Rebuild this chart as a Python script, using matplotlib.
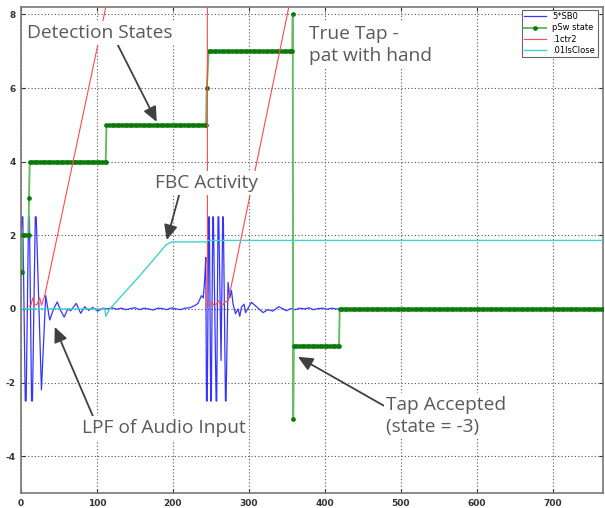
import numpy as np
import matplotlib.pyplot as plt

plt.rcParams['axes.unicode_minus'] = False

# 5*SB0 : low-pass filtered audio input
sb0_t = [0, 1.2, 2.4, 5.6, 6.8, 9.9, 11.1, 13.9, 15.1, 18.8, 20.0, 26.9,
         32.5, 37.8, 43.0, 47.7, 52.3, 56.9, 61.5, 65.4, 72.7, 78.6, 83.9,
         89.1, 94.4, 101, 107.6, 114, 120, 126, 132, 138, 144, 150, 156,
         162, 168, 174, 180, 186, 192, 198, 204, 210, 216, 222, 228.7, 233,
         237.5, 239.9, 241.8, 243.2, 244.1, 245.1, 247.1, 247.9, 249.7, 250.5,
         252.4, 253.2, 256.8, 257.6, 259.3, 260.3, 263.3, 265.5, 266.3, 269.1,
         269.9, 272.5, 274.8, 277.0, 279.1, 282.3, 285.7, 287.9, 290.2, 293.6,
         295.4, 299.8, 303.3, 307.7, 314.2, 318.6, 324.8, 331.4, 339.3, 344.9,
         349.4, 355.1, 361, 367, 373, 379, 385, 391, 397, 403, 409, 415, 421,
         766]
sb0 = [1.9, 2.5, 2.5, -2.5, -2.5, 2.5, 2.5, -2.5, -2.5, 2.5, 2.5, -2.2,
       0.36, -0.3, 0.0, 0.19, -0.05, -0.22, 0.0, -0.05, 0.15, -0.12, 0.06,
       -0.04, 0.04, -0.06, 0.02, 0.0, 0.03, -0.01, 0.02, -0.02, 0.01, 0.03,
       -0.02, 0.02, 0.0, -0.03, 0.02, 0.01, -0.02, 0.03, 0.0, -0.02, 0.02,
       0.03, 0.09, 0.15, 0.36, 0.3, 0.81, 1.4, -2.5, -2.5, 2.5, 2.5, -2.5,
       -2.5, 2.5, 2.5, -2.5, -2.5, 2.5, 2.5, -1.4, 2.5, 2.5, -2.5, -2.5, 0.72,
       0.3, 0.5, 0.13, -0.13, 0.0, -0.2, 0.05, 0.13, -0.1, 0.05, 0.18, 0.1,
       -0.02, -0.1, -0.02, -0.06, 0.06, 0.0, -0.05, 0.01, -0.02, 0.02, 0.0,
       0.03, -0.02, 0.01, 0.02, -0.01, 0.02, 0.0, 0.0, 0.0]

# pSw state : levels held between start and end
sw_levels = [1, 2, 3, 4, 5, 6, 7, 8, -3, -1, 0]
sw_start = [0, 2.0, 10.5, 11.5, 112.5, 244.5, 247.0, 357.7, 358.2, 359.0, 419.5]
sw_end = [1.5, 10.0, 10.5, 111.5, 243.5, 244.5, 357.2, 357.7, 358.2, 418.5, 766]

# .1ctr2 : counter ramps
ctr_t = [10.6, 13, 15.5, 18, 21, 24.6, 27, 31.2, 245.0, 245.4, 248, 251,
         254, 257, 260, 263, 266, 269, 272.5, 380]
ctr = [0.08, 0.1, 0.3, 0.1, 0.12, 0.3, 0.1, 0.36, 21.2, 0.05, 0.12, 0.2,
       0.1, 0.13, 0.22, 0.1, 0.12, 0.2, 0.2, 10.95]

# .01lsClose
ls_t = [0, 110.5, 111.5, 116.8, 156.3, 191.4, 198.4, 245.0, 245.5, 766]
ls = [0, 0, -0.2, 0, 0.9, 1.75, 1.82, 1.82, 1.86, 1.86]

sw_t, sw_v = [], []
for lvl, a, b in zip(sw_levels, sw_start, sw_end):
    pts = np.arange(a, b, 3.4).tolist() + [b]
    sw_t += pts
    sw_v += [lvl] * len(pts)

fig = plt.figure(figsize=(6.05, 5.08), dpi=100)
ax = fig.add_axes([21 / 605, 15 / 508, 582 / 605, 486 / 508])

ax.plot(sb0_t, sb0, color='#3535ff', lw=0.9, label='5*SB0', zorder=2)
ax.plot(sw_t, sw_v, color='#66bb66', lw=1.4, marker='o', ms=3.4, mew=0,
        mfc='#0b7a0b', label='pSw state', zorder=3)
ax.plot(ctr_t, ctr, color='#ff4a4a', lw=0.8, label='.1ctr2', zorder=4)
ax.plot(ls_t, ls, color='#40d2cf', lw=1.0, label='.01lsClose', zorder=5)

ax.set_xlim(0, 766)
ax.set_ylim(-5, 8.2)
ax.set_xticks(np.arange(0, 701, 100))
ax.set_yticks(np.arange(-4, 9, 2))
ax.grid(True, color='#555555', linestyle=(0, (1, 2)), lw=0.8)
ax.tick_params(direction='in', length=3, top=True, right=True,
               labelsize=6.5, colors='#333333', pad=4)
for lab in ax.get_xticklabels() + ax.get_yticklabels():
    lab.set_fontweight('bold')
for s in ax.spines.values():
    s.set_color('#777777')
    s.set_linewidth(1.2)

leg = ax.legend(loc='upper right', bbox_to_anchor=(0.991, 0.994),
                borderaxespad=0, fontsize=6, fancybox=False,
                edgecolor='#666666', framealpha=1, handlelength=2.6,
                labelspacing=0.25, borderpad=0.3)
leg.get_frame().set_linewidth(0.8)

txt = dict(fontsize=13.8, family='Open Sans', color='#5a5a5a', zorder=10,
           bbox=dict(facecolor='white', edgecolor='none', pad=2))
arrow = dict(arrowstyle='-|>,head_length=1.0,head_width=0.45',
             mutation_scale=9, color='#404040', lw=1.3, shrinkA=0, shrinkB=0)

ax.annotate('Detection States', xy=(178.6, 5.08), xytext=(7.5, 7.49),
            va='center', ha='left',
            arrowprops=dict(arrow, relpos=(0.61, 0.1)), **txt)
ax.annotate('FBC Activity', xy=(191.8, 1.87), xytext=(176, 3.42),
            va='center', ha='left',
            arrowprops=dict(arrow, relpos=(0.25, 0.1)), **txt)
ax.annotate('LPF of Audio Input', xy=(44.4, -0.49), xytext=(79.9, -3.23),
            va='center', ha='left',
            arrowprops=dict(arrow, relpos=(0.08, 0.9)), **txt)
ax.annotate('Tap Accepted\n(state = -3)', xy=(364.3, -1.3), xytext=(481, -2.91),
            va='center', ha='left', linespacing=1.3,
            arrowprops=dict(arrow, relpos=(0.0, 0.72)), **txt)
ax.text(378.8, 7.17, 'True Tap -\npat with hand', va='center', ha='left',
        linespacing=1.3, **txt)

fig.savefig('out.png', dpi=100)
